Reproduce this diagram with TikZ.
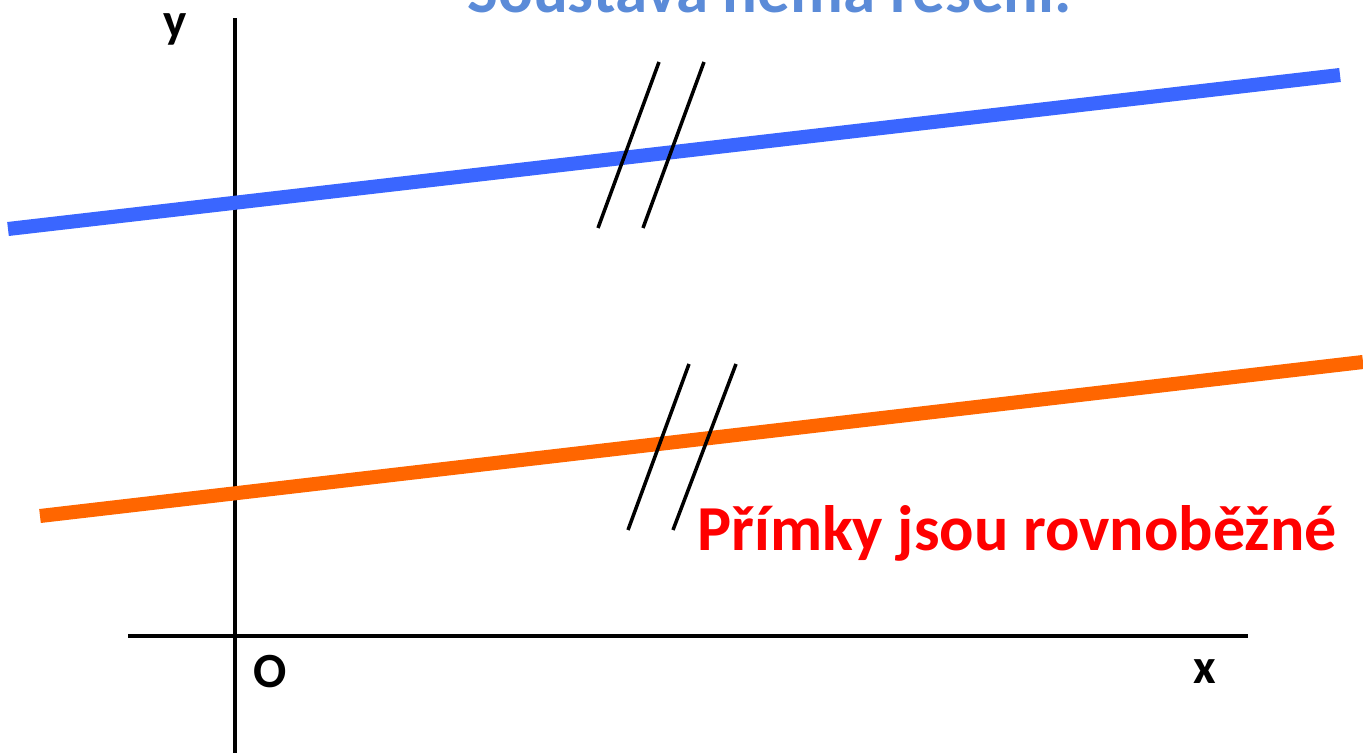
\documentclass[tikz,border=0pt]{standalone}
\usepackage{fontspec}
\setmainfont{Carlito}
\usepackage{tikz}
\usetikzlibrary{positioning}
\definecolor{lblue}{HTML}{3A66FF}
\definecolor{lorange}{HTML}{FF6600}
\definecolor{tblue}{HTML}{5B8BD8}
\definecolor{tred}{HTML}{FF0000}

\begin{document}
\begin{tikzpicture}[x=0.02cm, y=-0.02cm]
\tikzset{
  axis/.style={line width=2.2pt, black},
  graf/.style={line width=8pt},
  mark2/.style={line width=2pt, black},
  axlabel/.style={font=\fontsize{28}{30}\selectfont\bfseries, inner sep=0pt}
}
\useasboundingbox (0,0) rectangle (1363,753);
\clip (0,0) rectangle (1363,753);
% axes
\coordinate (ytop) at (235,18);
\coordinate (ybot) at (235,753);
\coordinate (xleft) at (128,636);
\coordinate (xright) at (1248,636);
\draw[axis] (ybot) -- (ytop);
\draw[axis] (xleft) -- (xright);
\node[axlabel] (ylab) at (175,29) {y};
\node[axlabel] (olab) at (270,672) {O};
\node[axlabel] (xlab) at (1205,672) {x};
% the two lines
\coordinate (b1) at (8,229);
\coordinate (b2) at (1340,75);
\coordinate (o1) at (40,516);
\coordinate (o2) at (1363,362);
\draw[graf, lblue] (b1) -- (b2);
\draw[graf, lorange] (o1) -- (o2);
% parallel marks
\draw[mark2] (598,228) -- (659,62);
\draw[mark2] (643,228) -- (704,62);
\draw[mark2] (628,530) -- (689,364);
\draw[mark2] (673,530) -- (736,364);
% texts
\node[font=\fontsize{36.5}{40}\selectfont\bfseries, text=tred,
  inner sep=0pt, anchor=base west] (rovno) at (697,550) {Přímky jsou rovnoběžné};
\node[font=\fontsize{37}{40}\selectfont\bfseries, text=tblue,
  inner sep=0pt, anchor=base west] (reseni) at (467,13) {Soustava nemá řešení.};
\end{tikzpicture}
\end{document}
